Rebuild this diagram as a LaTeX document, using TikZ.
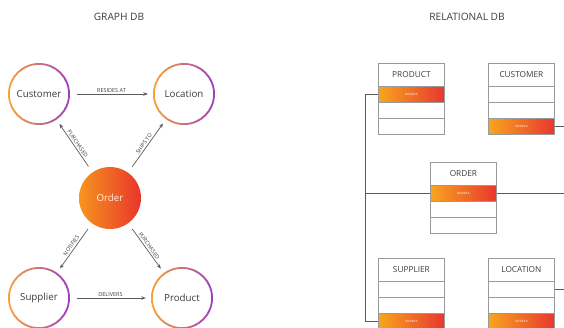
\documentclass[tikz,border=0pt]{standalone}
\usepackage{fontspec}
\setmainfont{Open Sans}
\usetikzlibrary{arrows.meta}
\definecolor{ringO}{HTML}{F9A23A}
\definecolor{ringR}{HTML}{EE4A5A}
\definecolor{ringP}{HTML}{9C3FBE}
\definecolor{ordO}{HTML}{F7951E}
\definecolor{ordR}{HTML}{E8352B}
\definecolor{keyO}{HTML}{F8A51E}
\definecolor{keyR}{HTML}{E8372E}
\definecolor{txt}{HTML}{3C3C3C}
\definecolor{gridc}{HTML}{9A9A9A}
\definecolor{wirec}{HTML}{5A5A5A}
\newcommand{\ringof}[1]{\shade[left color=ringO, middle color=ringR, right color=ringP, even odd rule] (#1.center) circle[radius=31bp] circle[radius=29.2bp];}
\newcommand{\dbtable}[5]{%
  \node[thead] (#1) at (#2,#3) {#4};
  \foreach \k in {1,2,3}{%
    \ifnum\k=#5\relax
      \node[tkey] (#1\k) at ({#2},{#3+23+(\k-1)*16}) {xxxxxx};
    \else
      \node[trow] (#1\k) at ({#2},{#3+23+(\k-1)*16}) {};
    \fi}%
}
\begin{document}
\begin{tikzpicture}[x=1bp,y=-1bp,
  entity/.style={circle, minimum size=62bp, inner sep=0pt, font=\fontsize{9.8}{12}\selectfont, text=txt},
  rel/.style={draw=wirec, line width=0.7bp, -{Stealth[length=4.5bp,width=3.5bp]}, shorten <=7bp, shorten >=5bp},
  rlabel/.style={font=\fontsize{5.5}{6}\selectfont, text=txt, inner sep=1.5bp},
  title/.style={font=\fontsize{10.2}{12}\selectfont, text=txt},
  thead/.style={draw=gridc, line width=0.8bp, minimum width=66bp, minimum height=23bp, inner sep=0pt, anchor=north west, font=\fontsize{8.3}{10}\selectfont, text=txt},
  trow/.style={draw=gridc, line width=0.8bp, minimum width=66bp, minimum height=16bp, inner sep=0pt, anchor=north west},
  tkey/.style={trow, left color=keyO, right color=keyR, font=\fontsize{4}{5}\selectfont, text=white!85!keyO},
  wire/.style={draw=wirec, line width=0.9bp}]
\useasboundingbox (0,0) rectangle (564,327);
% titles
\node[title] (gt) at (119,17) {GRAPH DB};
\node[title] (rt) at (467,17) {RELATIONAL DB};
% graph db
\node[entity] (cust) at (39,94) {Customer};
\node[entity] (loca) at (184,94) {Location};
\node[entity, left color=ordO, right color=ordR, text=white!88!ordO] (ordr) at (110,198) {Order};
\node[entity] (supl) at (39,298) {Supplier};
\node[entity] (prdt) at (182,298) {Product};
\ringof{cust}\ringof{loca}\ringof{supl}\ringof{prdt}
\draw[rel] (cust) -- node[rlabel, above] {RESIDES AT} (loca);
\draw[rel] (supl) -- node[rlabel, above] {DELIVERS} (prdt);
\draw[rel] (ordr) -- node[rlabel, above, sloped] {PURCHASED} (cust);
\draw[rel] (ordr) -- node[rlabel, above, sloped] {SHIPS TO} (loca);
\draw[rel] (ordr) -- node[rlabel, above, sloped] {NOTIFIES} (supl);
\draw[rel] (ordr) -- node[rlabel, above, sloped] {PURCHASED} (prdt);
% relational db
\dbtable{prod}{378}{63}{PRODUCT}{1}
\dbtable{cust}{488}{63}{CUSTOMER}{3}
\dbtable{ord}{430}{162}{ORDER}{1}
\dbtable{supp}{378}{258}{SUPPLIER}{3}
\dbtable{loc}{488}{258}{LOCATION}{3}
\coordinate (bus) at (365,94);
\coordinate (rim) at (564,0);
\draw[wire] (prod1.west) -- (prod1.west -| bus) |- (supp3.west);
\draw[wire] (ord1.west) -- (ord1.west -| bus);
\draw[wire] (ord1.east) -- (ord1.east -| rim);
\draw[wire] (cust3.east) -- (cust3.east -| rim);
\draw[wire] (loc1.east) -- (loc1.east -| rim);
\end{tikzpicture}
\end{document}
